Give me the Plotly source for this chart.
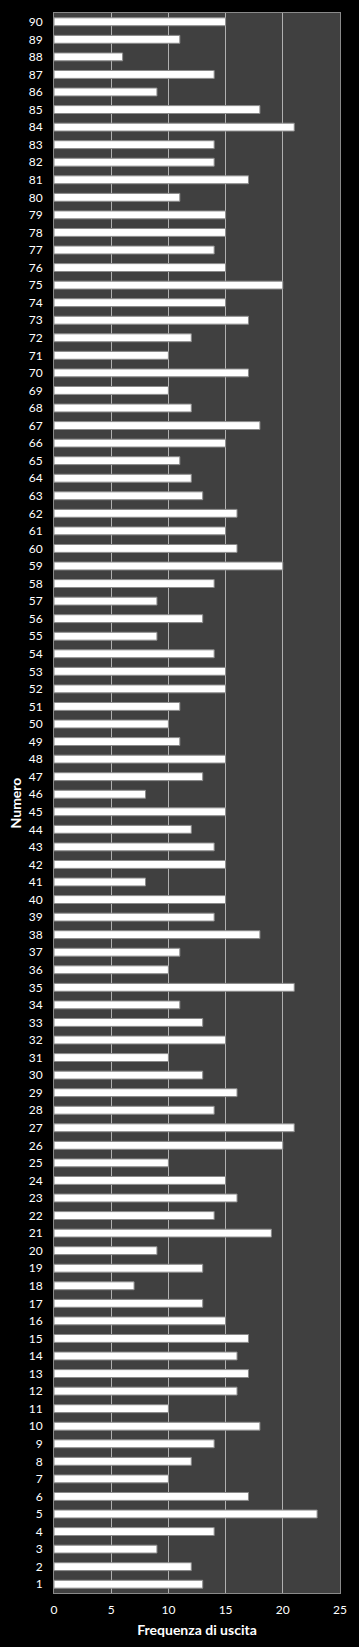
import plotly.graph_objects as go

numeri = list(range(1, 91))
frequenze = [
    13, 12, 9, 14, 23, 17, 10, 12, 14, 18,   # 1-10
    10, 16, 17, 16, 17, 15, 13, 7, 13, 9,    # 11-20
    19, 14, 16, 15, 10, 20, 21, 14, 16, 13,  # 21-30
    10, 15, 13, 11, 21, 10, 11, 18, 14, 15,  # 31-40
    8, 15, 14, 12, 15, 8, 13, 15, 11, 10,    # 41-50
    11, 15, 15, 14, 9, 13, 9, 14, 20, 16,    # 51-60
    15, 16, 13, 12, 11, 15, 18, 12, 10, 17,  # 61-70
    10, 12, 17, 15, 20, 15, 14, 15, 15, 11,  # 71-80
    17, 14, 14, 21, 18, 9, 14, 6, 11, 15,    # 81-90
]
x_ticks = [0, 5, 10, 15, 20, 25]

FONT = "Lato, 'Open Sans', sans-serif"

fig = go.Figure(go.Bar(
    x=frequenze,
    y=numeri,
    orientation="h",
    marker=dict(color="#ffffff", line=dict(color="#8a8a8a", width=1)),
    width=0.45,
    hoverinfo="x+y",
))

fig.update_layout(
    width=359, height=1647,
    margin=dict(l=54, r=13, t=13, b=53),
    paper_bgcolor="#000000",
    plot_bgcolor="#404040",
    showlegend=False,
    font=dict(family=FONT, color="#ffffff", size=12),
)
fig.update_xaxes(
    range=[0, 25],
    tickvals=x_ticks,
    showgrid=True, gridcolor="#b0b0b0", gridwidth=1,
    zeroline=False,
    showline=True, linecolor="#8a8a8a", linewidth=1, mirror=True,
    ticks="", ticklabelstandoff=6,
    tickfont=dict(family=FONT, size=12, color="#ffffff"),
    title=dict(text="<b>Frequenza di uscita</b>", font=dict(family=FONT, size=14, color="#ffffff"), standoff=8),
)
fig.update_yaxes(
    range=[0.5, 90.5],
    tickmode="linear", tick0=1, dtick=1,
    showgrid=False, zeroline=False,
    showline=True, linecolor="#8a8a8a", linewidth=1, mirror=True,
    ticks="", ticklabelstandoff=8,
    tickfont=dict(family=FONT, size=12, color="#ffffff"),
    title=dict(text="<b>Numero</b>", font=dict(family=FONT, size=14, color="#ffffff"), standoff=3),
)

fig.write_html("out.html")
